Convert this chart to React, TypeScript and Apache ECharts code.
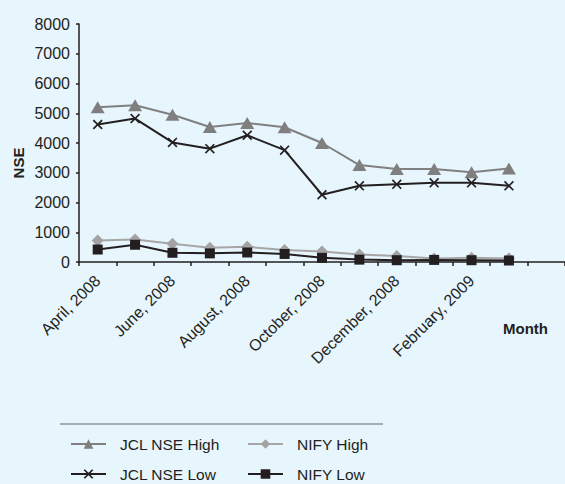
import React, { useEffect, useRef } from "react";
import * as echarts from "echarts";

const months = [
  "April, 2008", "May, 2008", "June, 2008", "July, 2008", "August, 2008", "September, 2008",
  "October, 2008", "November, 2008", "December, 2008", "January, 2009", "February, 2009", "March, 2009", "",
];
const jclHigh = [5200, 5270, 4950, 4540, 4670, 4530, 4000, 3260, 3130, 3130, 3020, 3140];
const jclLow = [4620, 4820, 4020, 3810, 4260, 3760, 2260, 2560, 2610, 2660, 2660, 2560];
const niftyHigh = [720, 760, 610, 480, 510, 400, 350, 250, 200, 120, 140, 120];
const niftyLow = [420, 580, 310, 290, 320, 270, 140, 80, 60, 70, 60, 50];
const yTicks = { min: 0, max: 8000, interval: 1000 };

const FONT = "Liberation Sans, Arial, sans-serif";
const DARK = "#231f20";
const X_SYMBOL = "path://M0,1.2 L1.2,0 L5,3.8 L8.8,0 L10,1.2 L6.2,5 L10,8.8 L8.8,10 L5,6.2 L1.2,10 L0,8.8 L3.8,5 Z";

const legendItem = (name: string, left: number, top: number) => ({
  orient: "horizontal",
  left,
  top,
  itemWidth: 35,
  itemHeight: 12,
  padding: 0,
  data: [name],
  textStyle: { color: DARK, fontSize: 15.5, fontFamily: FONT, padding: [0, 0, 0, 9] },
});

export default function App() {
  const ref = useRef<HTMLDivElement>(null);
  useEffect(() => {
    if (!ref.current) return;
    const chart = echarts.init(ref.current, null, { renderer: "svg" });
    chart.setOption({
      animation: false,
      backgroundColor: "#e7f5fc",
      textStyle: { fontFamily: FONT },
      grid: { left: 79, top: 24, bottom: 222, right: -2, containLabel: false },
      xAxis: {
        type: "category",
        data: months,
        boundaryGap: true,
        axisLine: { lineStyle: { color: DARK, width: 1.5 } },
        axisTick: { show: true, interval: 0, length: 4, lineStyle: { color: DARK, width: 1.5 } },
        axisLabel: { interval: 1, rotate: 45, margin: 16, color: DARK, fontSize: 16, fontFamily: FONT },
      },
      yAxis: {
        type: "value",
        min: yTicks.min,
        max: yTicks.max,
        interval: yTicks.interval,
        splitLine: { show: false },
        axisLine: { show: true, lineStyle: { color: DARK, width: 1.5 } },
        axisTick: { show: true, length: 3, lineStyle: { color: DARK, width: 1.5 } },
        axisLabel: { color: DARK, fontSize: 16, margin: 9, fontFamily: FONT, formatter: (v: number) => String(v) },
      },
      legend: [
        legendItem("JCL NSE High", 70, 436),
        legendItem("JCL NSE Low", 70, 466),
        legendItem("NIFY High", 247, 436),
        legendItem("NIFY Low", 247, 466),
      ],
      graphic: [
        { type: "line", shape: { x1: 60, y1: 424, x2: 383, y2: 424 }, style: { stroke: "#666", lineWidth: 1 } },
        {
          type: "text", x: 503, y: 328,
          style: { text: "Month", font: `bold 15px ${FONT}`, fill: DARK, align: "left", verticalAlign: "middle" },
        },
        {
          type: "text", x: 18, y: 163, rotation: Math.PI / 2,
          style: { text: "NSE", font: `bold 15px ${FONT}`, fill: DARK, align: "center", verticalAlign: "middle" },
        },
      ],
      series: [
        {
          name: "JCL NSE High", type: "line", data: jclHigh,
          symbol: "triangle", symbolSize: [14, 12],
          lineStyle: { color: "#808080", width: 2 },
          itemStyle: { color: "#7f7f7f" },
        },
        {
          name: "JCL NSE Low", type: "line", data: jclLow,
          symbol: X_SYMBOL, symbolSize: 10,
          lineStyle: { color: DARK, width: 2 },
          itemStyle: { color: DARK },
        },
        {
          name: "NIFY High", type: "line", data: niftyHigh,
          symbol: "diamond", symbolSize: 12,
          lineStyle: { color: "#a6a6a6", width: 2 },
          itemStyle: { color: "#a3a3a3" },
        },
        {
          name: "NIFY Low", type: "line", data: niftyLow,
          symbol: "rect", symbolSize: 10,
          lineStyle: { color: DARK, width: 2 },
          itemStyle: { color: DARK },
        },
      ],
    });
    return () => chart.dispose();
  }, []);
  return <div ref={ref} style={{ position: "fixed", left: 0, top: 0, width: 565, height: 484 }} />;
}
